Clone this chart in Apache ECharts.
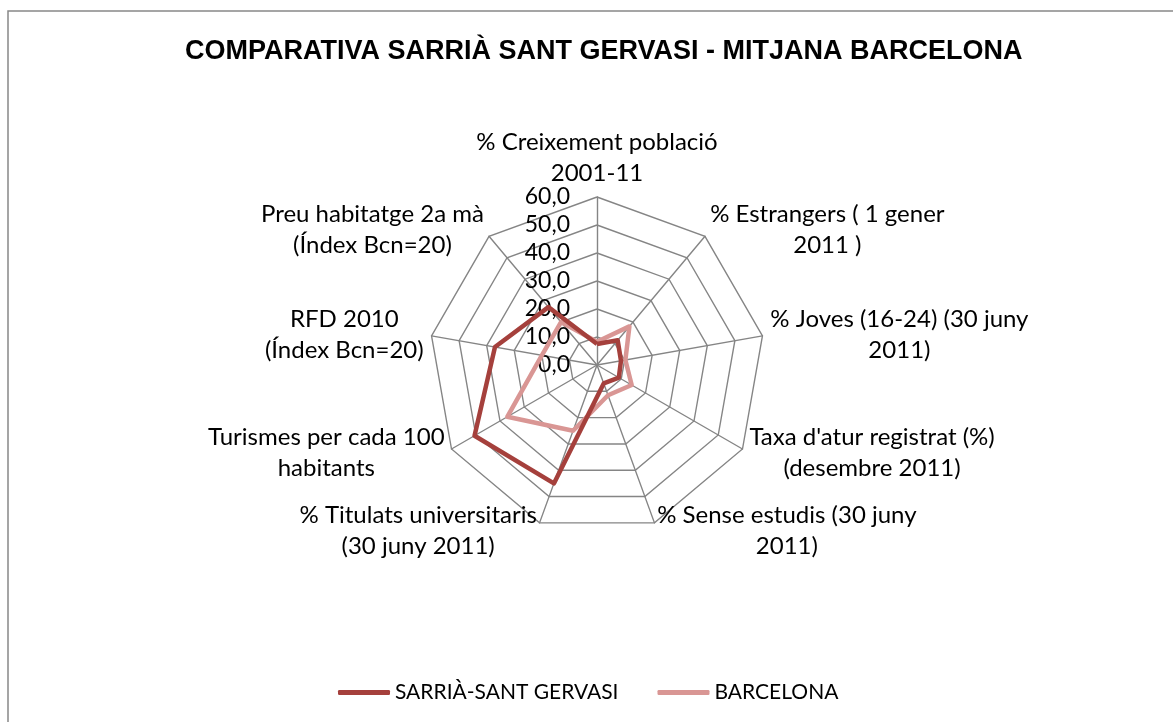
<!DOCTYPE html>
<html>
<head>
<meta charset="utf-8">
<title>Comparativa Sarrià Sant Gervasi - Mitjana Barcelona</title>
<script src="https://cdn.jsdelivr.net/npm/echarts@6/dist/echarts.min.js"></script>
<style>
  html, body { margin: 0; padding: 0; background: #fff; }
  #main { width: 1173px; height: 722px; }
</style>
</head>
<body>
<div id="main"></div>
<script>
// indicadors (en l'ordre del gràfic, en sentit horari des de dalt)
const indicators = [
    '% Creixement població\n2001-11',
    '% Estrangers ( 1 gener\n2011 )',
    '% Joves (16-24) (30 juny\n2011)',
    "Taxa d'atur registrat (%)\n(desembre 2011)",
    '% Sense estudis (30 juny\n2011)',
    '% Titulats universitaris\n(30 juny 2011)',
    'Turismes per cada 100\nhabitants',
    'RFD 2010\n(Índex Bcn=20)',
    'Preu habitatge 2a mà\n(Índex Bcn=20)'
];
const sarria = [7.5, 11.5, 8.7, 9.0, 7.0, 45.0, 50.5, 37.0, 27.0];
const barcelona = [8.3, 18.0, 10.3, 14.3, 11.5, 25.0, 37.0, 20.0, 20.0];
const seriesNames = ['SARRIÀ-SANT GERVASI', 'BARCELONA'];
const axisMin = 0, axisMax = 60, axisStep = 10;

const textFont = 'Lato';
const darkRed = '#A5403C', lightRed = '#D99694';

// echarts dibuixa el radar en sentit antihorari: el primer indicador queda a dalt
// i la resta s'hi posen al revés perquè surtin en sentit horari
const order = indicators.map((_, i) => (indicators.length - i) % indicators.length);
const pick = (arr) => order.map((i) => arr[i]);

let myChart = echarts.init(document.getElementById('main'));

let option = {
    animation: false,
    title: {
        text: 'COMPARATIVA SARRIÀ SANT GERVASI - MITJANA BARCELONA',
        left: 180,
        top: 31,
        textStyle: {
            fontFamily: 'Liberation Sans',
            fontWeight: 'bold',
            fontSize: 27,
            lineHeight: 32,
            color: '#000'
        }
    },
    graphic: [{
        type: 'rect',
        shape: { x: 8, y: 11, width: 1180, height: 730 },
        style: { fill: 'none', stroke: '#888', lineWidth: 1.5 },
        silent: true
    }],
    legend: {
        data: seriesNames,
        left: 333,
        top: 677,
        icon: 'roundRect',
        itemWidth: 52,
        itemHeight: 5,
        itemGap: 39,
        textStyle: { fontFamily: textFont, fontSize: 21, color: '#000' }
    },
    // eix vertical auxiliar per a les etiquetes 0,0 ... 60,0
    grid: { left: 597, top: 197, width: 1, height: 168 },
    xAxis: { type: 'value', show: false },
    yAxis: {
        type: 'value',
        min: axisMin,
        max: axisMax,
        interval: axisStep,
        axisLine: { show: false },
        axisTick: { show: false },
        splitLine: { show: false },
        axisLabel: {
            margin: 27,
            padding: [8, 0, 0, 0],
            fontFamily: textFont,
            fontSize: 23,
            color: '#000',
            formatter: (v) => v.toFixed(1).replace('.', ',')
        }
    },
    radar: {
        center: [597, 365],
        radius: 168,
        shape: 'polygon',
        splitNumber: (axisMax - axisMin) / axisStep,
        startAngle: 90,
        indicator: pick(indicators).map((n) => ({ name: n, min: axisMin, max: axisMax })),
        nameGap: 8,
        axisName: {
            color: '#000',
            fontFamily: textFont,
            fontSize: 24,
            formatter: (name) => name.split('\n').map((l) => '{c|' + l + '}').join('\n'),
            rich: {
                c: { align: 'center', fontFamily: textFont, fontSize: 24, lineHeight: 31, color: '#000' }
            }
        },
        axisLine: { lineStyle: { color: '#858585', width: 1.4 } },
        splitLine: { lineStyle: { color: '#858585', width: 1.4 } },
        splitArea: { show: false },
        axisLabel: { show: false },
        axisTick: { show: false }
    },
    series: [{
        type: 'radar',
        symbol: 'none',
        data: [
            { name: seriesNames[1], value: pick(barcelona),
              lineStyle: { color: lightRed, width: 4.5 }, itemStyle: { color: lightRed } },
            { name: seriesNames[0], value: pick(sarria),
              lineStyle: { color: darkRed, width: 4.5 }, itemStyle: { color: darkRed } }
        ]
    }]
};

myChart.setOption(option);
</script>
</body>
</html>
